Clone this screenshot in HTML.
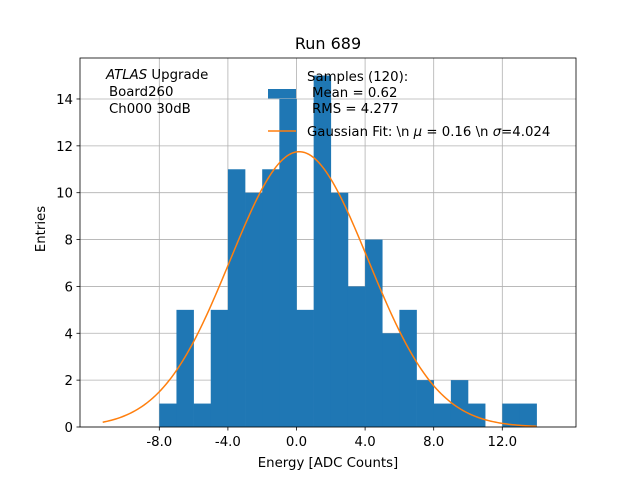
<!DOCTYPE html>
<html><head><meta charset="utf-8"><style>
body{margin:0;background:#fff;font-family:"DejaVu Sans","Liberation Sans",sans-serif}
text{font-family:"DejaVu Sans","Liberation Sans",sans-serif}
</style></head><body>
<svg id="chart" width="640" height="480" xmlns="http://www.w3.org/2000/svg"></svg>
<script>
const binEdgesStart = -8;
const binWidth = 1;
const counts = [1,5,1,5,11,10,11,14,5,15,10,6,8,4,5,2,1,2,1,0,1,1];
const xTicks = [-8,-4,0,4,8,12];
const xTickLabels = ["-8.0","-4.0","0.0","4.0","8.0","12.0"];
const yTicks = [0,2,4,6,8,10,12,14];
const fitMu = 0.16;
const fitSigma = 4.024;
const fitAmp = 11.75;
const fitRange = [-11.3, 14];

const NS="http://www.w3.org/2000/svg";
const svg=document.getElementById('chart');
const L=80,R=576,T=58,B=427;
const xs=v=>296.5+v*17.15;
const ys=v=>427-v*23.43;
function el(tag,attrs,txt){const e=document.createElementNS(NS,tag);for(const k in attrs)e.setAttribute(k,attrs[k]);if(txt!==undefined)e.textContent=txt;svg.appendChild(e);return e;}

xTicks.forEach((t,i)=>{
  const g=el('line',{x1:xs(t),x2:xs(t),y1:T,y2:B,stroke:'#b0b0b0','stroke-width':0.8});
  
  
});
yTicks.forEach(t=>{
  const g=el('line',{x1:L,x2:R,y1:ys(t),y2:ys(t),stroke:'#b0b0b0','stroke-width':0.8});
  
  
});
counts.forEach((c,i)=>{
  if(c<=0)return;
  const x0=xs(binEdgesStart+i*binWidth),x1=xs(binEdgesStart+(i+1)*binWidth);
  const b=el('rect',{x:x0,y:ys(c),width:x1-x0+0.3,height:ys(0)-ys(c),fill:'#1f77b4'});
  
  
});
let d='';
for(let k=0;k<=200;k++){
  const x=fitRange[0]+(fitRange[1]-fitRange[0])*k/200;
  const y=fitAmp*Math.exp(-0.5*Math.pow((x-fitMu)/fitSigma,2));
  d+=(k?'L':'M')+xs(x).toFixed(2)+','+ys(y).toFixed(2);
}
const fc=el('path',{d:d,fill:'none',stroke:'#ff7f0e','stroke-width':1.5});


const fr=el('rect',{x:L,y:T,width:R-L,height:B-T,fill:'none',stroke:'#000','stroke-width':0.8});


xTicks.forEach((t,i)=>{
  el('line',{x1:xs(t),x2:xs(t),y1:B,y2:B+3.5,stroke:'#000','stroke-width':0.8});
  const lb=el('text',{x:xs(t),y:B+19,'font-size':13.3,'text-anchor':'middle'},xTickLabels[i]);
  
  
});
yTicks.forEach(t=>{
  el('line',{x1:L-3.5,x2:L,y1:ys(t),y2:ys(t),stroke:'#000','stroke-width':0.8});
  const lb=el('text',{x:L-7,y:ys(t)+5,'font-size':13.3,'text-anchor':'end'},String(t));
  
  
});
</script>
<svg width="640" height="480" style="position:absolute;left:0;top:0" xmlns="http://www.w3.org/2000/svg">
<text x="328" y="49" font-size="16" text-anchor="middle">Run 689</text>
<text x="328" y="467" font-size="13.3" text-anchor="middle">Energy [ADC Counts]</text>
<text x="45" y="229" font-size="13.3" text-anchor="middle" transform="rotate(-90 45 229)">Entries</text>
<g font-size="13.3">
<text x="106" y="79"><tspan font-style="italic">ATLAS</tspan> Upgrade</text>
<text x="109" y="96">Board260</text>
<text x="109" y="113">Ch000 30dB</text>
</g>
<g font-size="13.3">
<rect x="268" y="89" width="28" height="9.5" fill="#1f77b4"/>
<text x="307" y="81">Samples (120):</text>
<text x="312" y="97">Mean = 0.62</text>
<text x="312" y="113">RMS = 4.277</text>
<line x1="268" x2="296" y1="131" y2="131" stroke="#ff7f0e" stroke-width="1.5"/>
<text x="307" y="136">Gaussian Fit: \n <tspan font-style="italic">μ</tspan> = 0.16 \n <tspan font-style="italic">σ</tspan>=4.024</text>
</g>
</svg>
</body></html>
